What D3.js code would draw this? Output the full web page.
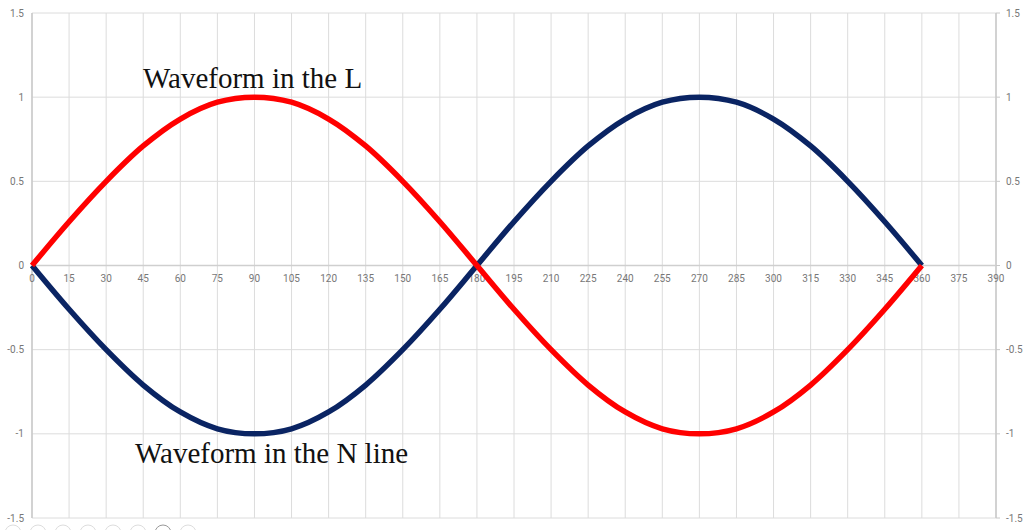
<!DOCTYPE html>
<html>
<head>
<meta charset="utf-8">
<script src="https://cdn.jsdelivr.net/npm/d3@7"></script>
<style>
  body { margin: 0; background: #fff; overflow: hidden; }
  svg { display: block; }
</style>
</head>
<body>
<div class="svg-target"></div>
<script>
const angles = [0, 15, 30, 45, 60, 75, 90, 105, 120, 135, 150, 165, 180,
                195, 210, 225, 240, 255, 270, 285, 300, 315, 330, 345, 360];
const lineL = [0, 0.26, 0.5, 0.71, 0.87, 0.97, 1, 0.97, 0.87, 0.71, 0.5, 0.26, 0,
               -0.26, -0.5, -0.71, -0.87, -0.97, -1, -0.97, -0.87, -0.71, -0.5, -0.26, 0];
const lineN = [0, -0.26, -0.5, -0.71, -0.87, -0.97, -1, -0.97, -0.87, -0.71, -0.5, -0.26, 0,
               0.26, 0.5, 0.71, 0.87, 0.97, 1, 0.97, 0.87, 0.71, 0.5, 0.26, 0];
const xTicks = d3.range(0, 391, 15);
const yTicks = [-1.5, -1, -0.5, 0, 0.5, 1, 1.5];
const labelL = 'Waveform in the L';
const labelN = 'Waveform in the N line';

const w = 1024;
const h = 530;
const padding = {t: 13, r: 28, b: 12, l: 32};

const svg = d3.select('.svg-target')
    .append('svg')
    .attr('width', w)
    .attr('height', h);

const xScale = d3.scaleLinear()
    .domain([0, 390])
    .range([padding.l, w - padding.r]);
const yScale = d3.scaleLinear()
    .domain([-1.5, 1.5])
    .range([h - padding.b, padding.t]);

// grid
svg.append('g')
    .selectAll('line')
    .data(xTicks)
    .join('line')
    .attr('x1', d => xScale(d)).attr('x2', d => xScale(d))
    .attr('y1', yScale(1.5)).attr('y2', yScale(-1.5))
    .attr('stroke', '#dcdcdc')
    .attr('stroke-width', 1);
svg.append('g')
    .selectAll('line')
    .data(yTicks)
    .join('line')
    .attr('x1', xScale(0)).attr('x2', xScale(390))
    .attr('y1', d => yScale(d)).attr('y2', d => yScale(d))
    .attr('stroke', '#dcdcdc')
    .attr('stroke-width', 1);

// left and right axis lines
svg.append('line')
    .attr('x1', xScale(0)).attr('x2', xScale(0))
    .attr('y1', yScale(1.5)).attr('y2', yScale(-1.5))
    .attr('stroke', '#c8c8c8').attr('stroke-width', 1.5);
svg.append('line')
    .attr('x1', xScale(390)).attr('x2', xScale(390))
    .attr('y1', yScale(1.5)).attr('y2', yScale(-1.5))
    .attr('stroke', '#c8c8c8').attr('stroke-width', 1.5);
// zero line
svg.append('line')
    .attr('x1', xScale(0)).attr('x2', xScale(390))
    .attr('y1', yScale(0)).attr('y2', yScale(0))
    .attr('stroke', '#cfcfcf').attr('stroke-width', 1.5);

// right ticks
svg.append('g')
    .selectAll('line')
    .data(yTicks)
    .join('line')
    .attr('x1', xScale(390)).attr('x2', xScale(390) + 4)
    .attr('y1', d => yScale(d)).attr('y2', d => yScale(d))
    .attr('stroke', '#c8c8c8');

const tickFont = 'Roboto, "Liberation Sans", sans-serif';

// left y labels
svg.append('g')
    .selectAll('text')
    .data(yTicks)
    .join('text')
    .attr('x', xScale(0) - 8)
    .attr('y', d => yScale(d))
    .attr('dy', '0.35em')
    .attr('text-anchor', 'end')
    .attr('font-family', tickFont)
    .attr('font-size', 10)
    .attr('fill', '#777')
    .text(d => d);
// right y labels
svg.append('g')
    .selectAll('text')
    .data(yTicks)
    .join('text')
    .attr('x', xScale(390) + 10)
    .attr('y', d => yScale(d))
    .attr('dy', '0.35em')
    .attr('text-anchor', 'start')
    .attr('font-family', tickFont)
    .attr('font-size', 10)
    .attr('fill', '#777')
    .text(d => d);
// x labels along the zero line
svg.append('g')
    .selectAll('text')
    .data(xTicks)
    .join('text')
    .attr('x', d => xScale(d))
    .attr('y', yScale(0) + 13)
    .attr('dy', '0.35em')
    .attr('text-anchor', 'middle')
    .attr('font-family', tickFont)
    .attr('font-size', 10)
    .attr('fill', '#777')
    .text(d => d);

// curves
const line = d3.line()
    .x(d => xScale(d[0]))
    .y(d => yScale(d[1]))
    .curve(d3.curveCatmullRom);

svg.append('path')
    .datum(angles.map((a, i) => [a, lineN[i]]))
    .attr('d', line)
    .attr('fill', 'none')
    .attr('stroke', '#0a2463')
    .attr('stroke-width', 5.5)
    .attr('stroke-linejoin', 'round');
svg.append('path')
    .datum(angles.map((a, i) => [a, lineL[i]]))
    .attr('d', line)
    .attr('fill', 'none')
    .attr('stroke', '#ff0000')
    .attr('stroke-width', 5.5)
    .attr('stroke-linejoin', 'round');

// labels
svg.append('text')
    .attr('x', 143)
    .attr('y', 88)
    .attr('font-family', '"Liberation Serif", "Times New Roman", serif')
    .attr('font-size', 29)
    .attr('fill', '#111')
    .text(labelL);
svg.append('text')
    .attr('x', 135)
    .attr('y', 463)
    .attr('font-family', '"Liberation Serif", "Times New Roman", serif')
    .attr('font-size', 29)
    .attr('fill', '#111')
    .text(labelN);

// page dots peeking at the bottom
svg.append('g')
    .selectAll('circle')
    .data(d3.range(8))
    .join('circle')
    .attr('cx', d => 13 + d * 25)
    .attr('cy', 533)
    .attr('r', 8)
    .attr('fill', 'none')
    .attr('stroke', d => d === 6 ? '#999' : '#ddd')
    .attr('stroke-width', 1);
</script>
</body>
</html>
